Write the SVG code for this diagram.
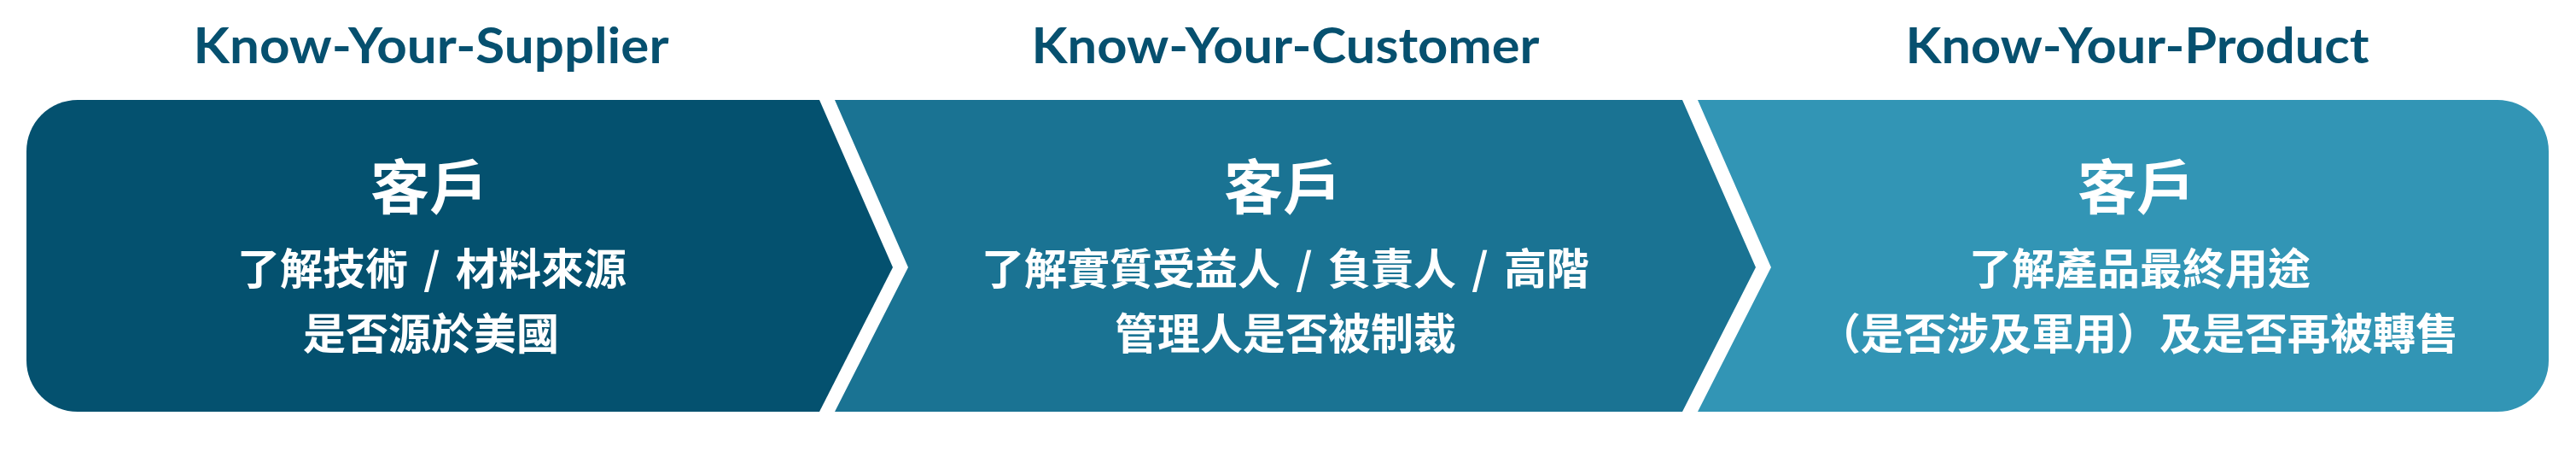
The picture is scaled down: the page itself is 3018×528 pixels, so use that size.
<svg xmlns="http://www.w3.org/2000/svg" width="3018" height="528" viewBox="0 0 3018 528">
<style>
.title{font-family:Lato,"Open Sans","Liberation Sans",sans-serif;font-weight:700;font-size:57px;fill:#06506F;text-anchor:middle}
.head{font-family:"Noto Sans CJK TC","Noto Sans CJK SC",sans-serif;font-weight:700;font-size:69px;fill:#FFFFFF;text-anchor:middle}
.body{font-family:"Noto Sans CJK TC","Noto Sans CJK SC",sans-serif;font-weight:700;font-size:50px;fill:#FFFFFF;text-anchor:middle;word-spacing:7px}
</style>
<rect x="0" y="0" width="3018" height="528" fill="#FFFFFF"/>
<g id="node-supplier">
<path d="M91,117 H960 L1046,313 L960,482 H91 A60,60 0 0 1 31,422 V177 A60,60 0 0 1 91,117 Z" fill="#04516F"/>
<text class="title" x="505" y="74" textLength="557" lengthAdjust="spacingAndGlyphs">Know-Your-Supplier</text>
<text class="head" x="503" y="245">客戶</text>
<text class="body" x="506" y="333">了解技術 / 材料來源</text>
<text class="body" x="505" y="409">是否源於美國</text>
</g>
<g id="node-customer">
<path d="M978,117 H1971 L2057,313 L1971,482 H978 L1064,313 Z" fill="#1A7393"/>
<text class="title" x="1506" y="74" textLength="595" lengthAdjust="spacingAndGlyphs">Know-Your-Customer</text>
<text class="head" x="1503" y="245">客戶</text>
<text class="body" x="1506" y="333">了解實質受益人 / 負責人 / 高階</text>
<text class="body" x="1506" y="409">管理人是否被制裁</text>
</g>
<g id="node-product">
<path d="M1989,117 H2926 A60,60 0 0 1 2986,177 V422 A60,60 0 0 1 2926,482 H1989 L2075,313 Z" fill="#3295B5"/>
<text class="title" x="2504" y="74" textLength="543" lengthAdjust="spacingAndGlyphs">Know-Your-Product</text>
<text class="head" x="2503" y="245">客戶</text>
<text class="body" x="2507" y="333">了解產品最終用途</text>
<text class="body" x="2505" y="409">（是否涉及軍用）及是否再被轉售</text>
</g>
<g id="connectors"></g>
</svg>
